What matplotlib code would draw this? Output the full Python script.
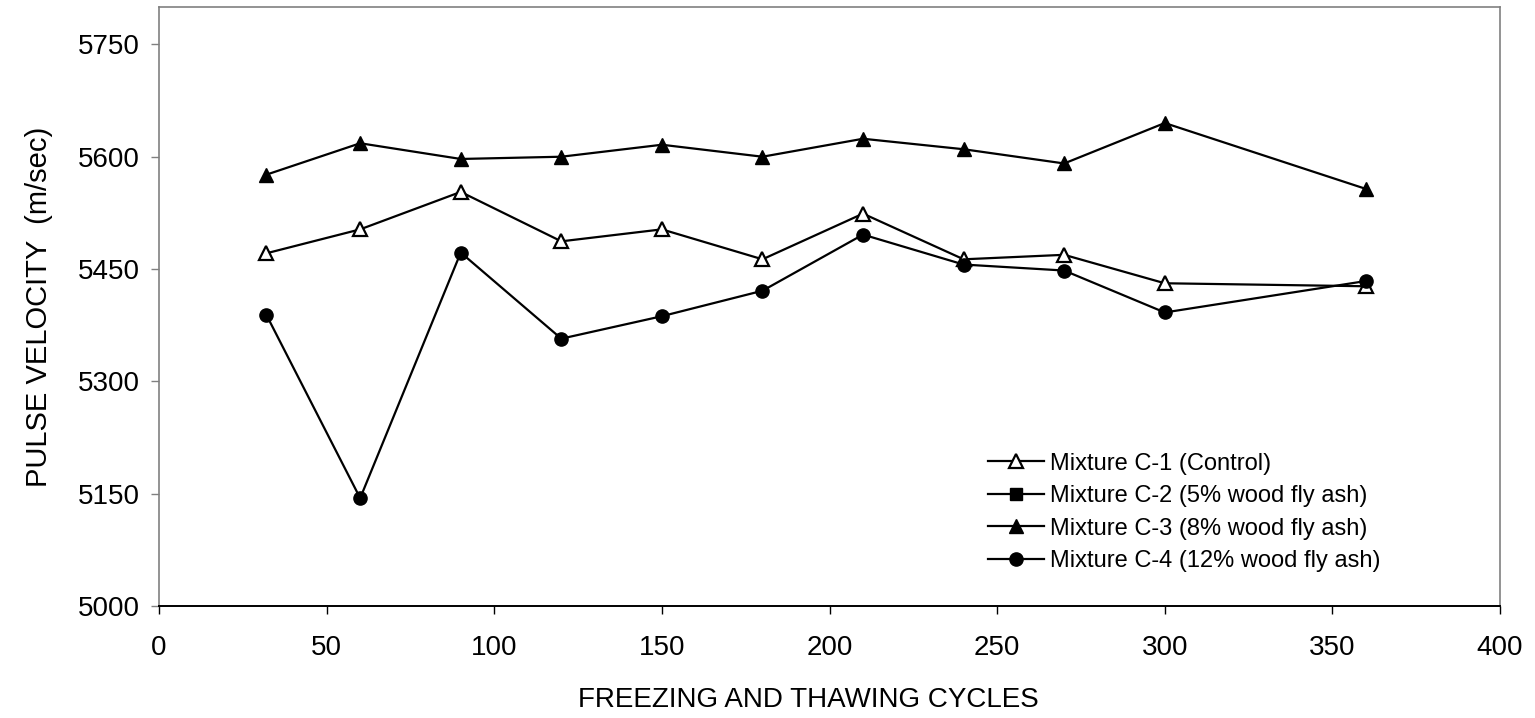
import matplotlib
matplotlib.use('Agg')
import matplotlib.pyplot as plt

plt.rcParams['font.family'] = ['Liberation Sans', 'DejaVu Sans']

# freeze-thaw cycle counts and pulse velocities (m/sec)
cycles = [32, 60, 90, 120, 150, 180, 210, 240, 270, 300, 360]
c1_control = [5471, 5503, 5553, 5487, 5503, 5463, 5524, 5463, 5469, 5431, 5427]
c2_5pct = []
c3_8pct = [5576, 5618, 5597, 5600, 5616, 5600, 5624, 5610, 5591, 5645, 5557]
c4_12pct = [5389, 5144, 5472, 5357, 5387, 5421, 5496, 5456, 5448, 5392, 5434]

labels = ['Mixture C-1 (Control)',
          'Mixture C-2 (5% wood fly ash)',
          'Mixture C-3 (8% wood fly ash)',
          'Mixture C-4 (12% wood fly ash)']

x_ticks = [0, 50, 100, 150, 200, 250, 300, 350, 400]
y_ticks = [5000, 5150, 5300, 5450, 5600, 5750]

fig = plt.figure(figsize=(15.35, 7.18), dpi=100)
ax = fig.add_axes([0.1036, 0.156, 0.8736, 0.8343])

lw = 1.6
ax.plot(cycles, c1_control, color='black', lw=lw, marker='^', markersize=10,
        markerfacecolor='white', markeredgecolor='black', markeredgewidth=1.6, label=labels[0])
ax.plot(c2_5pct, c2_5pct, color='black', lw=lw, marker='s', markersize=9,
        markerfacecolor='black', label=labels[1])
ax.plot(cycles, c3_8pct, color='black', lw=lw, marker='^', markersize=10.5,
        markerfacecolor='black', label=labels[2])
ax.plot(cycles, c4_12pct, color='black', lw=lw, marker='o', markersize=9.5,
        markerfacecolor='black', label=labels[3])

ax.set_xlim(0, 400)
ax.set_ylim(5000, 5800)
ax.set_xticks(x_ticks)
ax.set_yticks(y_ticks)
ax.tick_params(axis='both', direction='out', length=6, width=1, labelsize=20)
ax.tick_params(axis='x', pad=15)
ax.tick_params(axis='y', pad=8, colors='#808080', labelcolor='black')

for side in ['top', 'right', 'left']:
    ax.spines[side].set_color('#808080')
    ax.spines[side].set_linewidth(1.2)
ax.spines['bottom'].set_color('black')
ax.spines['bottom'].set_linewidth(1.4)

ax.set_xlabel('FREEZING AND THAWING CYCLES', fontsize=20, labelpad=20)
ax.xaxis.set_label_coords(0.484, -0.135)
ax.set_ylabel('PULSE VELOCITY  (m/sec)', fontsize=21, labelpad=18)

ax.legend(loc='upper left', bbox_to_anchor=(0.611, 0.272), frameon=False,
          fontsize=17, handlelength=2.4, handletextpad=0.25, labelspacing=0.45,
          borderaxespad=0)

fig.savefig('out.png', dpi=100)
